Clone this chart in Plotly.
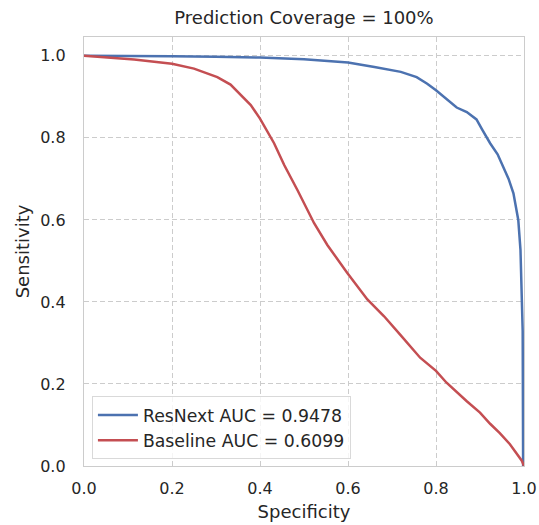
import plotly.graph_objects as go

# ResNext curve (specificity, sensitivity)
resnext_spec = [0.0, 0.1, 0.2, 0.3, 0.4, 0.5, 0.6, 0.66, 0.72, 0.756, 0.78, 0.8, 0.83,
                0.847, 0.87, 0.892, 0.905, 0.923, 0.94, 0.953, 0.965, 0.976, 0.987,
                0.992, 0.995, 0.997, 0.998, 1.0]
resnext_sens = [1.0, 1.0, 0.999, 0.998, 0.996, 0.992, 0.984, 0.973, 0.961, 0.948, 0.932,
                0.916, 0.89, 0.874, 0.863, 0.845, 0.82, 0.787, 0.76, 0.73, 0.70, 0.665,
                0.600, 0.527, 0.438, 0.33, 0.0, 0.0]

# Baseline curve (specificity, sensitivity)
base_spec = [0.0, 0.05, 0.114, 0.2, 0.25, 0.303, 0.333, 0.379, 0.4, 0.432, 0.455, 0.485,
             0.523, 0.553, 0.598, 0.644, 0.682, 0.718, 0.764, 0.8, 0.824, 0.87, 0.9,
             0.923, 0.945, 0.968, 0.995, 1.0]
base_sens = [1.0, 0.996, 0.991, 0.981, 0.969, 0.948, 0.930, 0.880, 0.847, 0.787, 0.734,
             0.673, 0.592, 0.539, 0.471, 0.406, 0.365, 0.321, 0.264, 0.232, 0.203, 0.158,
             0.13, 0.103, 0.08, 0.053, 0.013, 0.0]

names = ["ResNext AUC = 0.9478", "Baseline AUC = 0.6099"]
colors = ["#4C72B0", "#C44E52"]
title = "Prediction Coverage = 100%"
ticks = [0.0, 0.2, 0.4, 0.6, 0.8, 1.0]
tick_text = ["0.0", "0.2", "0.4", "0.6", "0.8", "1.0"]

font_family = "DejaVu Sans"
text_color = "#262626"
grid_color = "#cccccc"

fig = go.Figure()
fig.add_trace(go.Scatter(x=resnext_spec, y=resnext_sens, mode="lines", name=names[0],
                         line=dict(color=colors[0], width=2.5)))
fig.add_trace(go.Scatter(x=base_spec, y=base_sens, mode="lines", name=names[1],
                         line=dict(color=colors[1], width=2.5)))

axis_common = dict(
    showgrid=True, gridcolor=grid_color, griddash="5px,3px", gridwidth=1,
    showline=True, linecolor=grid_color, linewidth=1.3, mirror=True,
    zeroline=False, tickvals=ticks, ticktext=tick_text, automargin=False,
    tickfont=dict(family=font_family, size=16, color=text_color),
    title_font=dict(family=font_family, size=18, color=text_color),
)

fig.update_xaxes(range=[0, 1], title_text="Specificity", ticklabelstandoff=8,
                 title_standoff=8, ticklabeloverflow="allow", **axis_common)
fig.update_yaxes(range=[0, 1.046], title_text="Sensitivity", ticklabelstandoff=14,
                 title_standoff=5, **axis_common)

W, H = 539, 525
fig.update_layout(
    width=W, height=H,
    margin=dict(l=84, r=15, t=37, b=59, autoexpand=False),
    paper_bgcolor="white", plot_bgcolor="white",
    font=dict(family=font_family, color=text_color),
    title=dict(text=title, x=0.5, xref="paper", xanchor="center",
               y=1 - 18 / H, yref="container", yanchor="middle",
               font=dict(family=font_family, size=18, color=text_color)),
    legend=dict(x=0.018, y=0.016, xanchor="left", yanchor="bottom",
                bgcolor="rgba(255,255,255,0.8)", bordercolor="#d9d9d9", borderwidth=1,
                font=dict(family=font_family, size=17.3, color=text_color),
                itemwidth=40, tracegroupgap=0),
    showlegend=True,
)

fig.write_html(
    "out.html",
    config={"displayModeBar": False},
    post_script="document.body.style.margin='0';document.body.style.overflow='hidden';",
)
